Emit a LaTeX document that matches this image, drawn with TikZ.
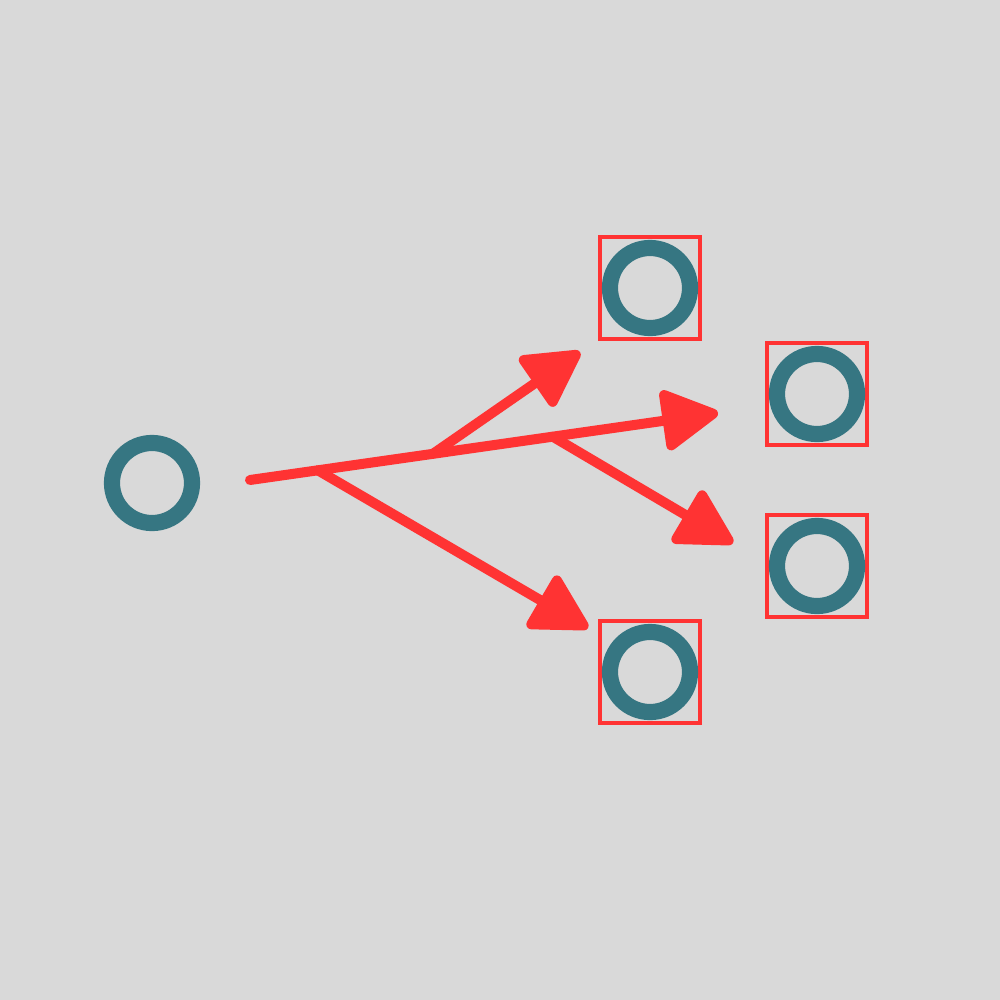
\documentclass[tikz,border=0pt]{standalone}
\usetikzlibrary{arrows.meta}
\definecolor{bg}{HTML}{D9D9D9}
\definecolor{teal}{HTML}{367682}
\definecolor{redline}{HTML}{FF3333}
\begin{document}
\begin{tikzpicture}[x=0.01cm,y=-0.01cm,
  ring/.style={circle,draw=teal,line width=4.6pt,minimum size=0.8cm,inner sep=0pt},
  frame/.style={rectangle,draw=redline,line width=0.9pt,minimum width=1cm,minimum height=1.02cm,inner sep=0pt},
  flow/.style={draw=redline,line width=2.845pt,line cap=round,
    -{Triangle[length=17.5pt,width=18.5pt,round]}}]
\fill[bg] (0,0) rectangle (1000,1000);
\useasboundingbox (0,0) rectangle (1000,1000);
% nodes
\node[ring] (src) at (152,483) {};
\node[frame] (bA) at (650,288) {};
\node[ring] (tA) at (650,288) {};
\node[frame] (bB) at (817,394) {};
\node[ring] (tB) at (817,394) {};
\node[frame] (bC) at (817,566) {};
\node[ring] (tC) at (817,566) {};
\node[frame] (bD) at (650,672) {};
\node[ring] (tD) at (650,672) {};
% arrow end points
\coordinate (m0) at (250,480);
\coordinate (m1) at (718,413);
\coordinate (pA) at (580,352);
\coordinate (pC) at (733,543);
\coordinate (pD) at (588,628);
\path (m0) -- (m1) coordinate[pos=0.145] (j1) coordinate[pos=0.391] (j2) coordinate[pos=0.647] (j3);
% connectors
\draw[flow] (j1) -- (pD);
\draw[flow] (j2) -- (pA);
\draw[flow] (j3) -- (pC);
\draw[flow] (m0) -- (m1);
\end{tikzpicture}
\end{document}
